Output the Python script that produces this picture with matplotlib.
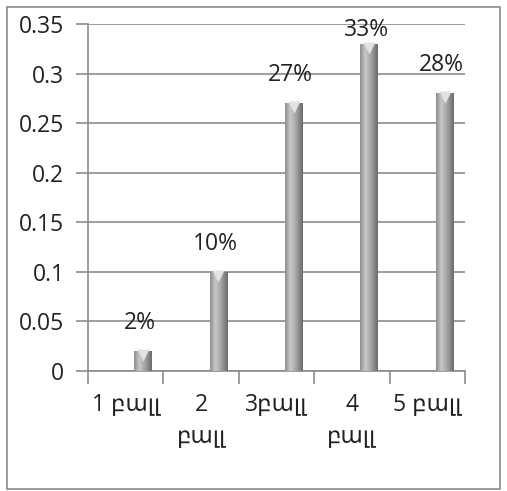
import matplotlib
matplotlib.use("Agg")
import matplotlib.pyplot as plt
import matplotlib.transforms as mtransforms
from matplotlib.colors import LinearSegmentedColormap
from matplotlib.patches import Rectangle
import numpy as np

categories = ["1 բալլ", "2\nբալլ", "3բալլ", "4\nբալլ", "5 բալլ"]
values = [0.02, 0.10, 0.27, 0.33, 0.28]
labels = ["2%", "10%", "27%", "33%", "28%"]
yticks = [0, 0.05, 0.1, 0.15, 0.2, 0.25, 0.3, 0.35]
ytick_labels = ["0", "0.05", "0.1", "0.15", "0.2", "0.25", "0.3", "0.35"]

plt.rcParams["font.family"] = ["Open Sans", "DejaVu Sans"]
FS = 16.5

fig = plt.figure(figsize=(5.07, 4.91), dpi=100)
fig.patch.set_facecolor("white")

# outer chart frame
fig.add_artist(Rectangle((7 / 507, 2 / 491), 493 / 507, 482 / 491,
                         transform=fig.transFigure, fill=False,
                         edgecolor="#8a8a8a", linewidth=1.2))

ax = fig.add_axes([88 / 507, 1 - 371 / 491, 377 / 507, 347 / 491])
ax.set_xlim(0, len(values))
ax.set_ylim(0, 0.35)

grid_color = "#8c8c8c"
for s in ["top", "right"]:
    ax.spines[s].set_visible(False)
for s in ["left", "bottom"]:
    ax.spines[s].set_color(grid_color)
    ax.spines[s].set_linewidth(1.2)

ax.set_yticks(yticks)
ax.set_yticklabels(ytick_labels, fontsize=FS, color="#222222")
ax.yaxis.grid(True, color=grid_color, linewidth=1.2)
ax.set_axisbelow(True)

ax.set_xticks(np.arange(len(values) + 1))
ax.set_xticklabels([])
ax.set_xticks(np.arange(len(values)) + 0.5, minor=True)
ax.set_xticklabels(categories, minor=True, fontsize=FS, color="#222222",
                   linespacing=1.45, va="top")
ax.tick_params(axis="x", which="minor", length=0, pad=16)
ax.tick_params(axis="x", which="major", length=9, color=grid_color, width=1.2)
ax.tick_params(axis="y", length=9, color=grid_color, width=1.2, pad=8)

# cylinder shading
cyl = LinearSegmentedColormap.from_list(
    "cyl", [(0.0, "#8e8e8e"), (0.3, "#c9c9c9"), (0.65, "#a0a0a0"), (1.0, "#6a6a6a")])
grad = np.linspace(0, 1, 64).reshape(1, -1)

offset = 0.23
width = 0.235
xs = np.arange(len(values)) + 0.5 + offset
bars = ax.bar(xs, values, width=width, color="none", edgecolor="none", zorder=3)
for b, v in zip(bars, values):
    x0 = b.get_x()
    im = ax.imshow(grad, cmap=cyl, aspect="auto",
                   extent=(x0, x0 + width, 0, v), zorder=3, interpolation="bicubic")
    im.set_clip_path(b)

# light caps on the bar tops
cap_shift = mtransforms.offset_copy(ax.transData, fig=fig, x=0, y=-4, units="dots")
ax.plot(xs, values, linestyle="none", marker="v", ms=8, color="#e2e2e2",
        mec="none", transform=cap_shift, zorder=4)

ax.set_xlim(0, len(values))
ax.set_ylim(0, 0.35)

# value labels
for x, v, lab in zip(xs, values, labels):
    ly = min(v + 0.0283, 0.344)
    ax.text(x - 0.04, ly, lab, ha="center", va="center", fontsize=FS,
            color="#222222", zorder=5, clip_on=False)

fig.savefig("out.png", dpi=100, facecolor="white")
